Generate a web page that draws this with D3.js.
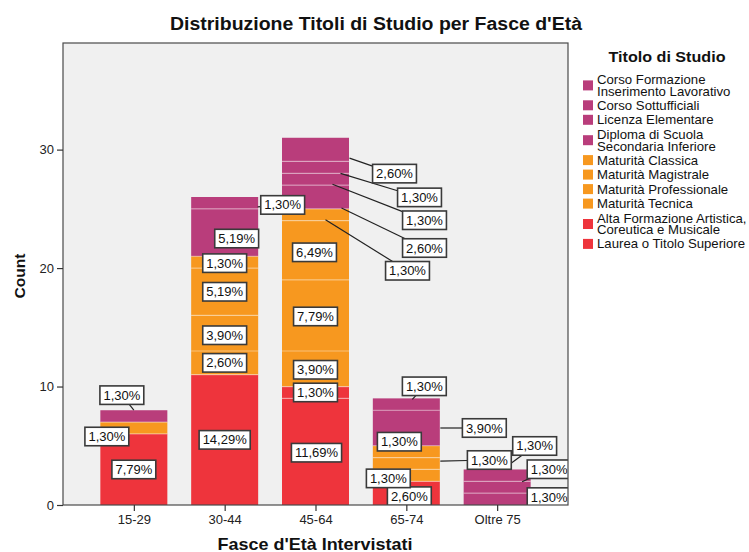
<!DOCTYPE html>
<html><head><meta charset="utf-8">
<script src="https://cdn.jsdelivr.net/npm/d3@7"></script>
<style>
body{margin:0;background:#fff;}
text{font-family:"Liberation Sans",Arial,sans-serif;}
</style></head>
<body><svg id="chart" width="749" height="552"></svg>
<script>
// ---- data ----
const categories = ["15-29","30-44","45-64","65-74","Oltre 75"];
// stack order, bottom to top
const levels = [
  "Laurea o Titolo Superiore",
  "Alta Formazione Artistica, Coreutica e Musicale",
  "Maturità Tecnica",
  "Maturità Professionale",
  "Maturità Magistrale",
  "Maturità Classica",
  "Diploma di Scuola Secondaria Inferiore",
  "Licenza Elementare",
  "Corso Sottufficiali",
  "Corso Formazione Inserimento Lavorativo"
];
const legendLines = [
  ["Laurea o Titolo Superiore"],
  ["Alta Formazione Artistica,","Coreutica e Musicale"],
  ["Maturità Tecnica"],
  ["Maturità Professionale"],
  ["Maturità Magistrale"],
  ["Maturità Classica"],
  ["Diploma di Scuola","Secondaria Inferiore"],
  ["Licenza Elementare"],
  ["Corso Sottufficiali"],
  ["Corso Formazione","Inserimento Lavorativo"]
];
const laurea        = [6,11,9,2,0];
const altaFormazione= [0,0,1,0,0];
const matTecnica    = [1,2,3,1,0];
const matProfess    = [0,3,6,1,0];
const matMagistrale = [0,4,5,1,0];
const matClassica   = [0,1,1,0,0];
const diploma       = [1,4,2,3,1];
const licenza       = [0,0,1,1,1];
const sottufficiali = [0,0,1,0,0];
const formazione    = [0,1,2,0,1];
const seriesValues = [laurea,altaFormazione,matTecnica,matProfess,matMagistrale,matClassica,diploma,licenza,sottufficiali,formazione];
const yTicks = [0,10,20,30];
const levelGroup = ["red","red","orange","orange","orange","orange","purple","purple","purple","purple"];

// ---- style / layout ----
const colors = {red:"#EE343C", orange:"#F7981F", purple:"#B93D7B"};
// label offsets (px) from segment centre: [dx, dy, anchorDx, anchorDy]
const labelLayout = {
  "15-29|2":[-27,8.5], "15-29|6":[-12,-21,0,-6],
  "30-44|3":[0,2], "30-44|5":[0,1], "30-44|6":[12,6], "30-44|9":[58,2,33,4],
  "45-64|0":[1,1], "45-64|2":[0,1], "45-64|3":[0,1], "45-64|4":[-1,2],
  "45-64|5":[92,56,10,5], "45-64|6":[109,51,26,11], "45-64|7":[109,41,17,5],
  "45-64|8":[104,30,25,6], "45-64|9":[79,24,34,8.5],
  "65-74|0":[3,3], "65-74|2":[-18,3], "65-74|3":[83,-3.5,34,-2.5], "65-74|4":[-7,-10],
  "65-74|6":[78,0,34,0], "65-74|7":[18,-18,6,-5],
  "Oltre 75|6":[52,-2], "Oltre 75|7":[52,-18,25,-5.5], "Oltre 75|9":[37.5,-29.4,6,-6.4]
};

const total = d3.sum(seriesValues.flat());
const M = {left:63, top:43, right:568, bottom:505};
const svg = d3.select("#chart");

const x = d3.scalePoint().domain(categories).range([M.left, M.right]).padding(0.78);
const y = d3.scaleLinear().domain([0,39]).range([M.bottom, M.top]);
const barW = 67;

svg.append("rect").attr("x",M.left).attr("y",M.top).attr("width",M.right-M.left).attr("height",M.bottom-M.top)
  .attr("fill","#F0F0F0");

svg.append("defs").append("clipPath").attr("id","clip").append("rect")
  .attr("x",M.left).attr("y",M.top).attr("width",M.right-M.left).attr("height",M.bottom-M.top);

// stacked data
const table = categories.map((c,i)=>{const o={cat:c}; levels.forEach((l,j)=>o[j]=seriesValues[j][i]); return o;});
const stack = d3.stack().keys(levels.map((l,j)=>j))(table);

const gBars = svg.append("g").attr("clip-path","url(#clip)");
const segs = [];
stack.forEach((layer,j)=>{
  layer.forEach((d,i)=>{
    if (d[1]-d[0] > 0) segs.push({cat:categories[i], j, y0:d[0], y1:d[1], v:d[1]-d[0]});
  });
});
gBars.selectAll("rect.seg").data(segs).join("rect").attr("class","seg")
  .attr("x",d=>x(d.cat)-barW/2).attr("width",barW)
  .attr("y",d=>y(d.y1)).attr("height",d=>y(d.y0)-y(d.y1))
  .attr("fill",d=>colors[levelGroup[d.j]]);
// separators
gBars.selectAll("line.sep").data(segs.filter(d=>d.y0>0)).join("line").attr("class","sep")
  .attr("x1",d=>x(d.cat)-barW/2).attr("x2",d=>x(d.cat)+barW/2)
  .attr("y1",d=>y(d.y0)).attr("y2",d=>y(d.y0))
  .attr("stroke","#fff").attr("stroke-opacity",0.4).attr("stroke-width",1.2);

// labels
const gLab = svg.append("g").attr("clip-path","url(#clip)");
const fmt = v => (v/total*100).toFixed(2).replace(".",",")+"%";
const lbls = segs.map(d=>{
  const lay = labelLayout[d.cat+"|"+d.j] || [0,0];
  const cx = x(d.cat), cy = y((d.y0+d.y1)/2);
  return {d, text:fmt(d.v), bx:cx+lay[0], by:cy+lay[1],
    ax: lay.length>2 ? cx+lay[2] : null, ay: lay.length>2 ? cy+lay[3] : null};
});
const gLeaders = gLab.append("g");
const gBoxes = gLab.append("g");
const bh = 18.5;
lbls.forEach(l=>{
  const g = gBoxes.append("g");
  const rect = g.append("rect");
  const t = g.append("text").attr("x",l.bx).attr("y",l.by).attr("text-anchor","middle")
    .attr("dominant-baseline","central").attr("font-size",13).attr("fill","#111").text(l.text);
  const w = t.node().getComputedTextLength()+7;
  rect.attr("x",l.bx-w/2).attr("y",l.by-bh/2).attr("width",w).attr("height",bh)
    .attr("fill","#fff").attr("stroke","#3a3a3a").attr("stroke-width",1.6);
  if (l.ax!==null) {
    const dx = l.bx-l.ax, dy = l.by-l.ay;
    const hw=w/2, hh=bh/2;
    const tCand = [];
    if (dx!==0) tCand.push((Math.abs(dx)-hw)/Math.abs(dx));
    if (dy!==0) tCand.push((Math.abs(dy)-hh)/Math.abs(dy));
    const tt = d3.max(tCand.filter(v=>v>0)) ?? 0;
    gLeaders.append("line").attr("x1",l.ax).attr("y1",l.ay)
      .attr("x2",l.ax+dx*tt).attr("y2",l.ay+dy*tt)
      .attr("stroke","#222").attr("stroke-width",1.2);
  }
});

// frame
svg.append("rect").attr("x",M.left).attr("y",M.top).attr("width",M.right-M.left).attr("height",M.bottom-M.top)
  .attr("fill","none").attr("stroke","#4a4a4a").attr("stroke-width",1.2);

// axes
const yAxis = svg.append("g").attr("transform",`translate(${M.left},0)`)
  .call(d3.axisLeft(y).tickValues(yTicks).tickSize(6).tickPadding(3).tickFormat(d3.format("d")));
const xAxis = svg.append("g").attr("transform",`translate(0,${M.bottom})`)
  .call(d3.axisBottom(x).tickSize(6).tickPadding(4));
[yAxis,xAxis].forEach(a=>{
  a.select(".domain").remove();
  a.selectAll(".tick line").attr("stroke","#333").attr("stroke-width",1.2);
  a.selectAll(".tick text").attr("font-size",13).attr("fill","#222")
    .attr("font-family","'Liberation Sans',Arial,sans-serif");
});

// titles
svg.append("text").attr("x",376).attr("y",30).attr("text-anchor","middle")
  .attr("font-size",17.5).attr("font-weight","bold").attr("fill","#111")
  .attr("textLength",412).attr("lengthAdjust","spacingAndGlyphs")
  .text("Distribuzione Titoli di Studio per Fasce d'Età");
svg.append("text").attr("x",315).attr("y",550).attr("text-anchor","middle")
  .attr("font-size",16.5).attr("font-weight","bold").attr("fill","#111")
  .attr("textLength",195).attr("lengthAdjust","spacingAndGlyphs")
  .text("Fasce d'Età Intervistati");
svg.append("text").attr("transform","translate(25,276) rotate(-90)").attr("text-anchor","middle")
  .attr("font-size",15.5).attr("font-weight","bold").attr("fill","#111").text("Count");

// legend
const lg = svg.append("g");
lg.append("text").attr("x",667).attr("y",62).attr("text-anchor","middle")
  .attr("font-size",15).attr("font-weight","bold").attr("fill","#111")
  .attr("textLength",117).attr("lengthAdjust","spacingAndGlyphs").text("Titolo di Studio");
let ly = 79.5;
const lineH = 11.8;
for (let j = levels.length-1; j>=0; j--) {
  const lines = legendLines[j];
  const mid = ly + (lines.length-1)*lineH/2;
  lg.append("rect").attr("x",583).attr("y",mid-5).attr("width",10).attr("height",10)
    .attr("fill",colors[levelGroup[j]]);
  lines.forEach((s,k)=>{
    lg.append("text").attr("x",597).attr("y",ly+k*lineH).attr("dominant-baseline","central")
      .attr("font-size",13.2).attr("fill","#111").text(s);
  });
  ly += lines.length>1 ? lineH + 14 : 14.5;
}
</script></body></html>
